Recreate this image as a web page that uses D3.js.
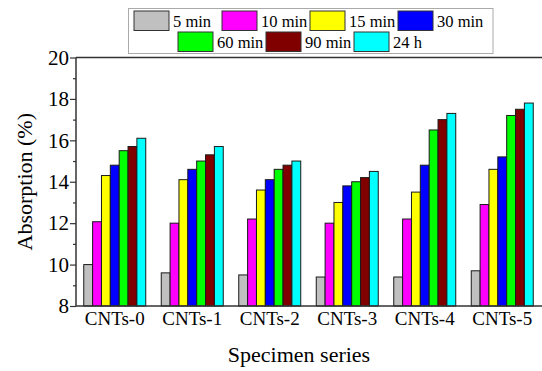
<!DOCTYPE html>
<html><head><meta charset="utf-8">
<script src="https://cdn.jsdelivr.net/npm/d3@7"></script>
</head><body style="margin:0;background:#fff">
<svg id="c" width="542" height="371" style="display:block;font-family:'Liberation Serif'"></svg>
<script>
const categories = ["CNTs-0","CNTs-1","CNTs-2","CNTs-3","CNTs-4","CNTs-5"];
const seriesNames = ["5 min","10 min","15 min","30 min","60 min","90 min","24 h"];
const seriesColors = ["#c0c0c0","#ff00ff","#ffff00","#0000ff","#00ff00","#800000","#00ffff"];
const v5min  = [10.0, 9.6, 9.5, 9.4, 9.4, 9.7];
const v10min = [12.07, 12.0, 12.2, 12.0, 12.2, 12.9];
const v15min = [14.3, 14.1, 13.6, 13.0, 13.5, 14.6];
const v30min = [14.8, 14.6, 14.1, 13.8, 14.8, 15.2];
const v60min = [15.5, 15.0, 14.6, 14.0, 16.5, 17.2];
const v90min = [15.7, 15.3, 14.8, 14.2, 17.0, 17.5];
const v24h   = [16.1, 15.7, 15.0, 14.5, 17.3, 17.8];
const yTicks = [8,10,12,14,16,18,20];
const yMinor = [9,11,13,15,17,19];
const allSeries = [v5min,v10min,v15min,v30min,v60min,v90min,v24h];

const FONT = "'Liberation Serif'";
const svg = d3.select("#c");
const L = 76, R = 541, T = 57.5, B = 306;
const xb = d3.scaleBand().domain(categories).range([L,R]);
const y = d3.scaleLinear().domain([8,20]).range([B,T]);

// bars
const g = svg.append("g");
categories.forEach((c,ci)=>{
  const inner = d3.scaleBand().domain(seriesNames)
    .range([xb(c) + xb.bandwidth()*0.1, xb(c) + xb.bandwidth()*0.9]);
  seriesNames.forEach((s,si)=>{
    const v = allSeries[si][ci];
    g.append("rect")
      .attr("x", inner(s)).attr("y", y(v))
      .attr("width", inner.bandwidth()).attr("height", y(8)-y(v))
      .attr("fill", seriesColors[si]).attr("stroke","#1a1a1a").attr("stroke-width",1);
  });
});

// top border
svg.append("line").attr("x1",L).attr("x2",542).attr("y1",T).attr("y2",T).attr("stroke","#333").attr("stroke-width",1.5);
// x axis
const xAxis = d3.axisBottom(xb).tickSize(0).tickPadding(6);
const gx = svg.append("g").attr("transform",`translate(0,${B})`).call(xAxis);
gx.attr("font-family",null).attr("font-size",null);
gx.select(".domain").attr("d",`M${L},0H542`).attr("stroke","#333").attr("stroke-width",1.5);
gx.selectAll("text").style("font-family",FONT).style("font-size","19px").attr("fill","#000");

// y axis
const yAxis = d3.axisLeft(y).tickValues(yTicks).tickSize(6).tickPadding(1).tickFormat(d3.format("d"));
const gy = svg.append("g").attr("transform",`translate(${L},0)`).call(yAxis);
gy.attr("font-family",null).attr("font-size",null);
gy.select(".domain").attr("d",`M0,${T}V${B}`).attr("stroke","#333").attr("stroke-width",1.5);
gy.selectAll(".tick line").attr("stroke","#333").attr("stroke-width",1.2);
gy.selectAll("text").style("font-family",FONT).style("font-size","21px").attr("fill","#000");
const yAxisMinor = d3.axisLeft(y).tickValues(yMinor).tickSize(3).tickFormat("");
const gym = svg.append("g").attr("transform",`translate(${L},0)`).call(yAxisMinor);
gym.select(".domain").remove();
gym.selectAll(".tick line").attr("stroke","#333").attr("stroke-width",1.2);

// titles
svg.append("text").attr("x",299).attr("y",362).attr("text-anchor","middle")
  .style("font-family",FONT).style("font-size","22px").text("Specimen series");
svg.append("text").attr("transform",`translate(32,${(T+B)/2}) rotate(-90)`).attr("text-anchor","middle")
  .style("font-family",FONT).style("font-size","22px").text("Absorption (%)");

// legend
svg.append("rect").attr("x",128.5).attr("y",8.5).attr("width",364.5).attr("height",45).attr("fill","#fff").attr("stroke","#aaa").attr("stroke-width",1);
const colW = 88;
seriesNames.forEach((s,i)=>{
  const row = i<4 ? 0 : 1;
  const col = i<4 ? i : i-4;
  const x0 = (row===0 ? 134 : 178) + col*colW;
  const y0 = row===0 ? 11 : 32;
  svg.append("rect").attr("x",x0).attr("y",y0).attr("width",35).attr("height",19.5)
    .attr("fill",seriesColors[i]).attr("stroke","#333").attr("stroke-width",1);
  svg.append("text").attr("x",x0+39).attr("y",y0+15.5)
    .style("font-family",FONT).style("font-size","16.5px").text(s);
});
</script></body></html>
